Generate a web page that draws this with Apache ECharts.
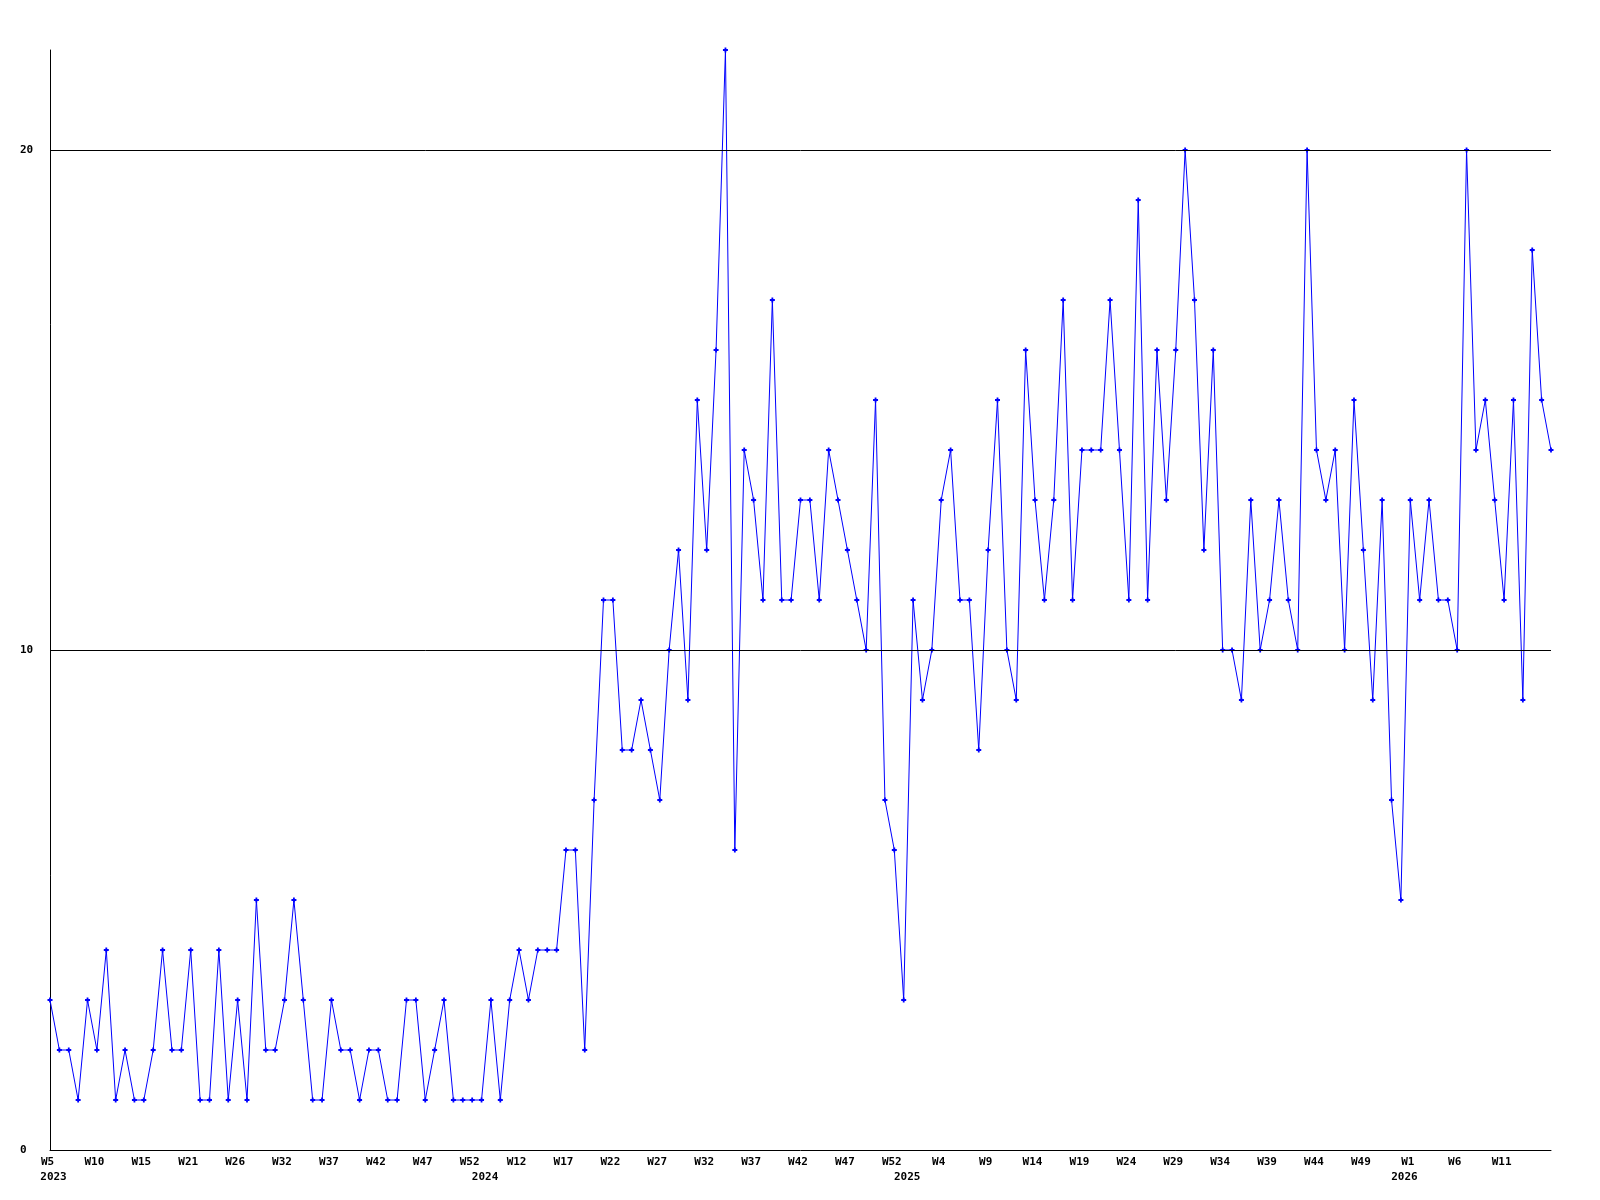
<!DOCTYPE html>
<html>
<head>
<meta charset="utf-8">
<script src="https://cdn.jsdelivr.net/npm/echarts@6/dist/echarts.min.js"></script>
<style>
html,body{margin:0;padding:0;background:#fff;}
#chart{width:1600px;height:1200px;}
</style>
</head>
<body>
<div id="chart"></div>
<script>
// Week numbers of each data point, per year
const weeks2023 = [5,6,7,8,9,10,11,12,13,14,15,16,17,18,19,21,22,23,24,25,26,27,28,29,30,32,33,34,35,36,37,38,39,40,41,42,43,44,45,46,47,48,49,50,51,52];
const weeks2024 = [8,9,10,11,12,13,14,15,16,17,18,19,20,21,22,23,24,25,26,27,28,29,30,31,32,33,34,35,36,37,38,39,40,41,42,43,44,45,46,47,48,49,50,51,52];
const weeks2025 = [0,1,2,3,4,5,6,7,8,9,10,11,12,13,14,15,16,17,18,19,20,21,22,23,24,25,26,27,28,29,30,31,32,33,34,35,36,37,38,39,40,41,42,43,44,45,46,47,48,49,50,51,52];
const weeks2026 = [0,1,2,3,4,5,6,7,8,9,10,11,12,13,14,15,16];

// Weekly counts
const values = [
  3,2,2,1,3,2,4,1,2,1, 1,2,4,2,2,4,1,1,4,1, 3,1,5,2,2,3,5,3,1,1, 3,2,2,1,2,2,1,1,3,3,
  1,2,3,1,1,1,1,3,1,3, 4,3,4,4,4,6,6,2,
  7,11,11,8,8,9,8,7,10,12, 9,15,12,16,22,6,14,13,11,17, 11,11,13,
  13,11,14,13,12,11,10,15,7,6, 3,11,9,10,13,14,11,11,8,12, 15,10,9,16,13,
  11,13,17,11,14,14,14,17,14,11, 19,11,16,13,16,20,17,12,16,10, 10,9,13,10,11,13,11,
  10,20,14,13,14,10,15,12,9,13, 7,5,13,11,13,11,11,10,20,14, 15,13,11,15,9,18,15,14
];

// Y axis gridlines
const gridValues = [10, 20];

const weekCats = [];
const yearCats = [];
[[2023, weeks2023],[2024, weeks2024],[2025, weeks2025],[2026, weeks2026]].forEach(([y, ws]) => {
  ws.forEach(w => { weekCats.push('W' + w); yearCats.push(String(y)); });
});

const FONT = '"DejaVu Sans Mono", "Liberation Mono", monospace';
const chart = echarts.init(document.getElementById('chart'), null, {renderer: 'canvas'});
chart.setOption({
  backgroundColor: '#ffffff',
  animation: false,
  grid: {left: 50, right: 49, top: 50, bottom: 50, containLabel: false},
  xAxis: [{
    type: 'category',
    data: weekCats,
    boundaryGap: false,
    position: 'bottom',
    axisLine: {show: true, lineStyle: {color: '#000', width: 1}},
    axisTick: {show: false},
    splitLine: {show: false},
    axisLabel: {
      interval: (i) => i % 5 === 0 && i < weekCats.length - 1,
      color: '#000', fontFamily: FONT, fontSize: 11, fontWeight: 'bold', margin: 7,
      padding: [0, 5, 0, 0],
      hideOverlap: false
    }
  }, {
    type: 'category',
    data: yearCats,
    boundaryGap: false,
    position: 'bottom',
    offset: 15,
    axisLine: {show: false},
    axisTick: {show: false},
    splitLine: {show: false},
    axisLabel: {
      interval: (i) => i === 0 || yearCats[i] !== yearCats[i - 1],
      color: '#000', fontFamily: FONT, fontSize: 11, fontWeight: 'bold', margin: 7,
      padding: [0, 0, 0, 7],
      hideOverlap: false
    }
  }],
  yAxis: {
    type: 'value',
    min: 0, max: 22, interval: 10,
    axisLine: {show: true, lineStyle: {color: '#000', width: 1}},
    axisTick: {show: false},
    splitLine: {show: false},
    axisLabel: {
      showMaxLabel: false,
      align: 'left', margin: 30,
      formatter: (v) => (v % 10 === 0 ? String(v) : ''),
      color: '#000', fontFamily: FONT, fontSize: 11, fontWeight: 'bold'
    }
  },
  series: [{
    type: 'line',
    xAxisIndex: 0,
    data: values,
    symbol: 'path://M1.6,0H3.4V1.6H5V3.4H3.4V5H1.6V3.4H0V1.6H1.6Z',
    symbolSize: 5,
    showAllSymbol: true,
    lineStyle: {color: '#0000ff', width: 1},
    itemStyle: {color: '#0000ff'},
    emphasis: {disabled: true},
    clip: false,
    markLine: {
      silent: true,
      symbol: 'none',
      label: {show: false},
      lineStyle: {color: '#000', width: 1, type: 'solid'},
      data: gridValues.map(v => ({yAxis: v}))
    },
    z: 3
  }]
});
</script>
</body>
</html>
